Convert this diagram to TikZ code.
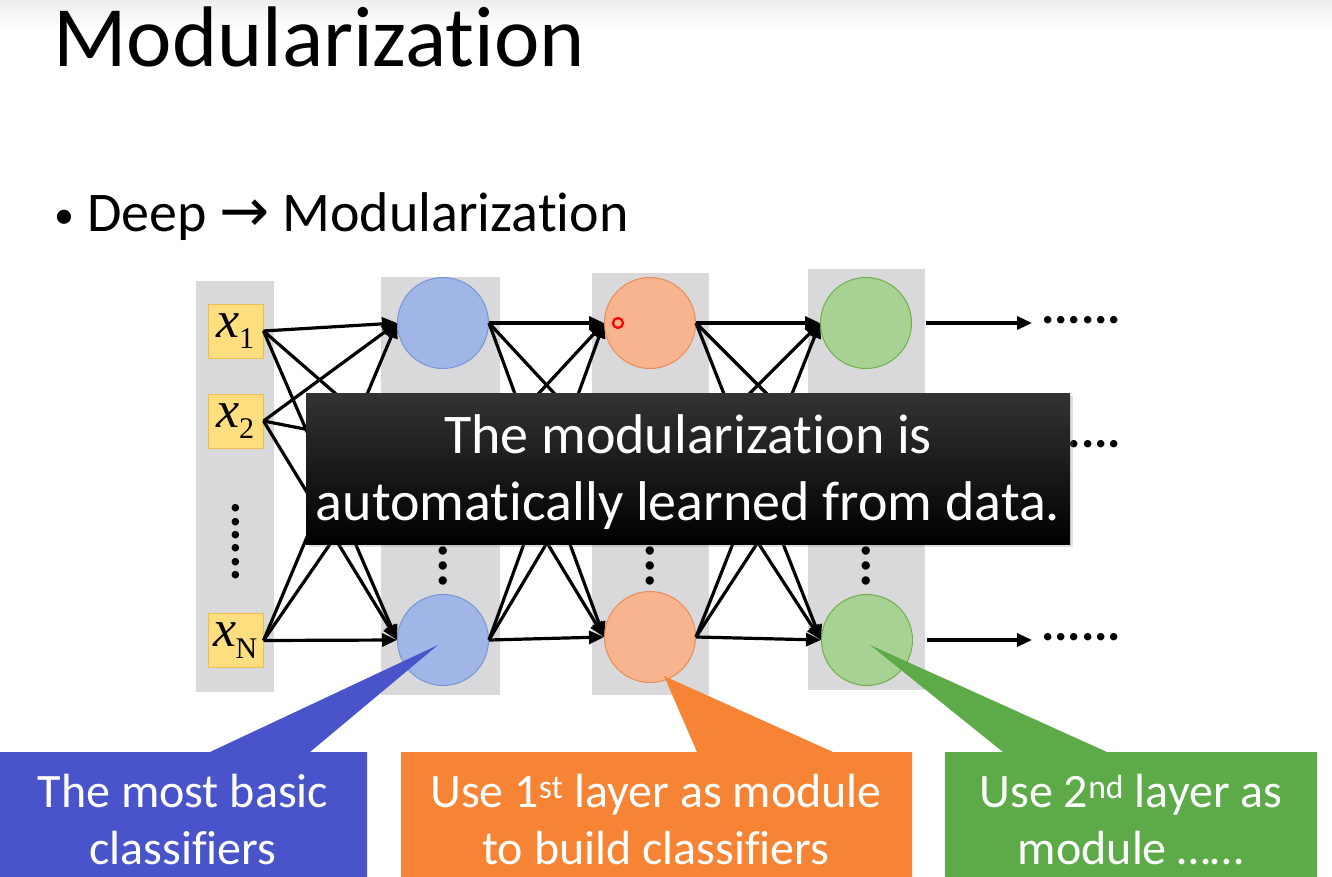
\documentclass[tikz,border=0pt]{standalone}
\usepackage{fontspec}
\setmainfont{Carlito}[Ligatures=NoCommon]
\newfontfamily\serif{Liberation Serif}
\newfontfamily\symfont{DejaVu Sans}
\usetikzlibrary{arrows.meta,shadows}

\definecolor{colgray}{RGB}{217,217,219}
\definecolor{infill}{RGB}{255,222,128}
\definecolor{inedge}{RGB}{240,190,80}
\definecolor{nbfill}{RGB}{160,182,230}
\definecolor{nbedge}{RGB}{120,148,214}
\definecolor{nofill}{RGB}{248,180,142}
\definecolor{noedge}{RGB}{234,140,90}
\definecolor{ngfill}{RGB}{168,210,148}
\definecolor{ngedge}{RGB}{112,174,74}
\definecolor{cblue}{RGB}{74,84,202}
\definecolor{corange}{RGB}{246,132,52}
\definecolor{cgreen}{RGB}{92,170,72}

\tikzset{
  colbg/.style={fill=colgray, draw=none, inner sep=0pt},
  inbox/.style={draw=inedge, fill=infill, line width=1pt, minimum width=55pt,
    minimum height=54pt, inner sep=0pt, font=\serif\fontsize{52}{52}\selectfont},
  neuron/.style={circle, minimum size=91pt, inner sep=0pt, line width=1pt},
  nblue/.style={neuron, fill=nbfill, draw=nbedge},
  norange/.style={neuron, fill=nofill, draw=noedge},
  ngreen/.style={neuron, fill=ngfill, draw=ngedge},
  link/.style={line width=3.2pt, -{Triangle[length=15pt,width=13pt]}},
  hdots/.style={font=\bfseries\fontsize{50}{50}\selectfont, inner sep=0pt},
  calltext/.style={text=white, align=center, font=\fontsize{48}{57}\selectfont},
}

\newcommand{\xin}[1]{{\itshape x}\kern-1pt\raisebox{-0.22em}{\fontsize{30}{30}\selectfont #1}}

\begin{document}
\begin{tikzpicture}[x=1pt,y=-1pt]
\useasboundingbox (0,0) rectangle (1332,877);
\fill[white] (0,0) rectangle (1332,877);
\shade[top color=black!7, bottom color=white] (0,0) rectangle (1332,30);

% headings
\node[anchor=base west, inner sep=0pt, font=\fontsize{86}{90}\selectfont] (title) at (53,67) {Modularization};
\node[anchor=base west, inner sep=0pt, font=\fontsize{40}{40}\selectfont] (bul) at (54,229) {•};
\node[anchor=base west, inner sep=0pt, font=\fontsize{56}{60}\selectfont] (bullet) at (87,232)
  {Deep {\symfont\fontsize{60}{60}\selectfont →} Modularization};

% layer columns
\node[colbg, minimum width=78pt, minimum height=411pt] (c0) at (235,486.5) {};
\node[colbg, minimum width=119pt, minimum height=418pt] (c1) at (440.5,486) {};
\node[colbg, minimum width=117pt, minimum height=422pt] (c2) at (650.5,484) {};
\node[colbg, minimum width=117pt, minimum height=421pt] (c3) at (866.5,479.5) {};

% inputs
\node[inbox] (i1) at (235.5,331) {\xin{1}};
\node[inbox] (i2) at (235.5,421) {\xin{2}};
\node[inbox] (iN) at (235.5,640.5) {\xin{N}};
\node[hdots, rotate=-90] (vd0) at (236,542) {......};

% neurons
\node[nblue] (n11) at (443,323) {};
\node[nblue] (n12) at (443,447) {};
\node[nblue] (n13) at (443,640) {};
\node[norange] (n21) at (650,323) {};
\node[norange] (n22) at (650,447) {};
\node[norange] (n23) at (650,637) {};
\node[ngreen] (n31) at (866,323) {};
\node[ngreen] (n32) at (866,447) {};
\node[ngreen] (n33) at (867,640) {};
\foreach \c/\x in {vd1/443, vd2/650, vd3/866}
  \node[hdots, rotate=-90, font=\bfseries\fontsize{56}{56}\selectfont] (\c) at (\x,566) {...};

% connections
\foreach \s in {i1,i2,iN}
  \foreach \t in {n11,n12,n13}
    \draw[link] (\s.east) -- (\t.west);
\foreach \s in {n11,n12,n13}
  \foreach \t in {n21,n22,n23}
    \draw[link] (\s.east) -- (\t.west);
\foreach \s in {n21,n22,n23}
  \foreach \t in {n31,n32,n33}
    \draw[link] (\s.east) -- (\t.west);

% outputs
\coordinate (o1) at (1032,323);
\coordinate (o2) at (1032,447);
\coordinate (o3) at (1032,640);
\draw[link, shorten <=14pt] (n31.east) -- (o1);
\draw[link, shorten <=14pt] (n32.east) -- (o2);
\draw[link, shorten <=14pt] (n33.east) -- (o3);
\node[hdots, anchor=west] (d1) at (1041,320) {......};
\node[hdots, anchor=west] (d2) at (1041,444) {......};
\node[hdots, anchor=west] (d3) at (1041,637) {......};

% laser pointer mark
\node[circle, draw=red, line width=2.2pt, minimum size=10pt, inner sep=0pt] (ptr) at (618,323) {};

% caption box
\node[top color=black!80, middle color=black!97, bottom color=black, minimum width=764pt,
  minimum height=151pt, inner sep=0pt,
  drop shadow={shadow xshift=3pt, shadow yshift=-3pt, opacity=0.25}] (cap) at (688,468.5) {};
\node[text=white, align=center, font=\fontsize{56}{67}\selectfont] (captext) at (688,472)
  {The modularization is\\automatically learned from data.};

% callouts
\fill[cblue] (0,752) -- (210,752) -- (438,645) -- (310,752) -- (367,752) -- (367,877) -- (0,877) -- cycle;
\fill[corange] (401,752) -- (697,752) -- (664,676) -- (833,752) -- (912,752) -- (912,877) -- (401,877) -- cycle;
\fill[cgreen] (945,752) -- (1003,752) -- (870,645) -- (1107,752) -- (1317,752) -- (1317,877) -- (945,877) -- cycle;
\node[calltext] (tb) at (183,820) {The most basic\\classifiers};
\node[calltext] (to) at (656,820) {Use 1\textsuperscript{st} layer as module\\to build classifiers};
\node[calltext] (tg) at (1131,820) {Use 2\textsuperscript{nd} layer as\\module ……};
\end{tikzpicture}
\end{document}
